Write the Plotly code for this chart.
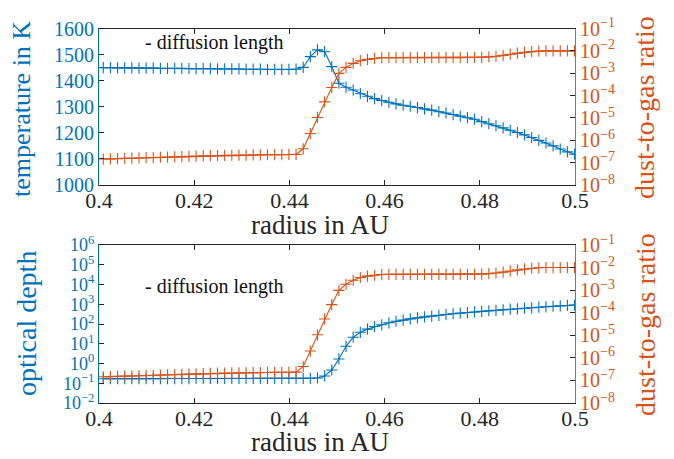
import plotly.graph_objects as go

# ---------------- data ----------------
radius = [round(0.4009 + 0.0015 * k, 5) for k in range(67)]

temperature = [1450, 1450, 1449, 1449, 1449, 1448, 1448, 1448, 1447, 1447,
               1447, 1447, 1446, 1446, 1446, 1446, 1445, 1445, 1445, 1445,
               1444, 1444, 1444, 1443, 1443, 1443, 1443, 1444, 1451, 1492,
               1518, 1511, 1454, 1390, 1375, 1364, 1350, 1340, 1331, 1324,
               1317, 1311, 1306, 1302, 1297, 1292, 1287, 1281, 1276, 1270,
               1264, 1258, 1252, 1243, 1235, 1227, 1219, 1210, 1201, 1192,
               1182, 1171, 1161, 1150, 1138, 1127, 1118]

dust_to_gas = [1.45e-7, 1.48e-7, 1.51e-7, 1.55e-7, 1.58e-7, 1.62e-7, 1.66e-7,
               1.70e-7, 1.74e-7, 1.78e-7, 1.82e-7, 1.86e-7, 1.91e-7, 1.95e-7,
               2.00e-7, 2.04e-7, 2.09e-7, 2.11e-7, 2.14e-7, 2.16e-7, 2.19e-7,
               2.21e-7, 2.24e-7, 2.26e-7, 2.29e-7, 2.29e-7, 2.32e-7, 2.34e-7,
               4.17e-7, 2.0e-6, 1.05e-5, 5.25e-5, 2.29e-4, 9.8e-4, 1.82e-3,
               2.75e-3, 3.63e-3, 4.17e-3, 4.57e-3, 4.90e-3, 5.0e-3, 5.0e-3,
               5.0e-3, 5.0e-3, 5.0e-3, 5.0e-3, 5.0e-3, 5.0e-3, 5.0e-3, 5.0e-3,
               5.0e-3, 5.02e-3, 5.05e-3, 5.13e-3, 5.37e-3, 5.75e-3, 6.31e-3,
               7.08e-3, 7.94e-3, 8.71e-3, 9.33e-3, 9.77e-3, 1.0e-2, 1.0e-2,
               1.0e-2, 1.0e-2, 1.0e-2]

optical_depth = [0.170, 0.170, 0.171, 0.171, 0.171, 0.172, 0.172, 0.172, 0.172,
                 0.173, 0.173, 0.173, 0.173, 0.174, 0.174, 0.174, 0.174, 0.175,
                 0.175, 0.175, 0.175, 0.175, 0.176, 0.176, 0.176, 0.176, 0.176,
                 0.177, 0.177, 0.178, 0.185, 0.234, 0.468, 1.70, 7.41, 21.4,
                 38.0, 55.0, 74.1, 91.2, 115, 138, 158, 182, 204, 229, 251, 275,
                 302, 331, 355, 380, 407, 437, 468, 490, 525, 562, 589, 631, 661,
                 708, 741, 794, 832, 871, 912]

x_tickvals = [0.4, 0.42, 0.44, 0.46, 0.48, 0.5]
x_ticktext = ["0.4", "0.42", "0.44", "0.46", "0.48", "0.5"]
temp_tickvals = [1000, 1100, 1200, 1300, 1400, 1500, 1600]
dg_exponents = [-8, -7, -6, -5, -4, -3, -2, -1]
tau_exponents = [-2, -1, 0, 1, 2, 3, 4, 5, 6]

BLUE = "#0072BD"
ORANGE = "#D95319"
SERIF = "Liberation Serif"

def pow_text(e):
    return "10<sup>%s</sup>" % (str(e).replace("-", "\u2212"))

fig = go.Figure()

def add_series(x, y, color, xa, ya):
    fig.add_trace(go.Scatter(x=x, y=y, mode="lines+markers",
                             line=dict(color=color, width=1.1),
                             marker=dict(color=color, line=dict(color=color, width=1.1),
                                         symbol="cross-thin", size=8),
                             xaxis=xa, yaxis=ya, showlegend=False))

add_series(radius, temperature, BLUE, "x", "y")
add_series(radius, dust_to_gas, ORANGE, "x", "y2")
add_series(radius, optical_depth, BLUE, "x2", "y3")
add_series(radius, dust_to_gas, ORANGE, "x2", "y4")

# page has an 8px body margin: figure is sized so the page is 674x459
OFF = 8
W, H = 674 - OFF, 459 - OFF

def px(v):
    return (v - OFF) / W

def py(v):
    return 1 - (v - OFF) / H

xd = [px(99), px(575)]
top_d = [py(185), py(28.5)]
bot_d = [py(403), py(245)]

xcommon = dict(range=[0.4, 0.5], tickvals=x_tickvals, ticktext=x_ticktext,
               showline=True, linecolor="#262626", linewidth=1, mirror="ticks",
               ticks="inside", ticklen=5, tickcolor="#262626", showgrid=False,
               zeroline=False, tickfont=dict(family=SERIF, size=22, color="#262626"),
               ticklabelstandoff=-4,
               domain=xd, automargin=False)

ycommon = dict(showgrid=False, zeroline=False, ticks="inside", ticklen=5,
               tickcolor="#262626", showline=True, linewidth=1, automargin=False)

fig.update_layout(
    width=W, height=H, margin=dict(l=0, r=0, t=0, b=0),
    paper_bgcolor="white", plot_bgcolor="white",
    xaxis=dict(anchor="y", **xcommon),
    xaxis2=dict(anchor="y3", **xcommon),
    yaxis=dict(domain=top_d, anchor="x", range=[1000, 1600], tickvals=temp_tickvals,
               linecolor=BLUE, tickfont=dict(family=SERIF, size=20, color=BLUE),
               **ycommon),
    yaxis2=dict(domain=top_d, anchor="x", overlaying="y", side="right", type="log",
                range=[-8, -1], tickvals=[10 ** e for e in dg_exponents],
                ticktext=[pow_text(e) for e in dg_exponents],
                linecolor="#A86A50", tickfont=dict(family=SERIF, size=20, color=ORANGE),
                **ycommon),
    yaxis3=dict(domain=bot_d, anchor="x2", type="log", range=[-2, 6],
                tickvals=[10 ** e for e in tau_exponents],
                ticktext=[pow_text(e) for e in tau_exponents],
                linecolor=BLUE, tickfont=dict(family=SERIF, size=18, color=BLUE),
                **ycommon),
    yaxis4=dict(domain=bot_d, anchor="x2", overlaying="y3", side="right", type="log",
                range=[-8, -1], tickvals=[10 ** e for e in dg_exponents],
                ticktext=[pow_text(e) for e in dg_exponents],
                linecolor="#A86A50", tickfont=dict(family=SERIF, size=20, color=ORANGE),
                **ycommon),
)

def ann(text, x, y, size, color, angle=0, xanchor="center", yanchor="middle"):
    fig.add_annotation(text=text, x=px(x), y=py(y), xref="paper", yref="paper",
                       showarrow=False, textangle=angle, xanchor=xanchor, yanchor=yanchor,
                       font=dict(family=SERIF, size=size, color=color))

ann("temperature in K", 22, 109, 26, BLUE, angle=-90)
ann("optical depth", 26, 324, 28, BLUE, angle=-90)
ann("dust-to-gas ratio", 645, 108, 28, ORANGE, angle=-90)
ann("dust-to-gas ratio", 645, 325, 28, ORANGE, angle=-90)
ann("radius in AU", 320, 225, 27, "#262626")
ann("radius in AU", 320, 442, 27, "#262626")
ann("- diffusion length", 143, 42, 20, "#111111", xanchor="left")
ann("- diffusion length", 143, 286, 20, "#111111", xanchor="left")

fig.write_html("out.html")
